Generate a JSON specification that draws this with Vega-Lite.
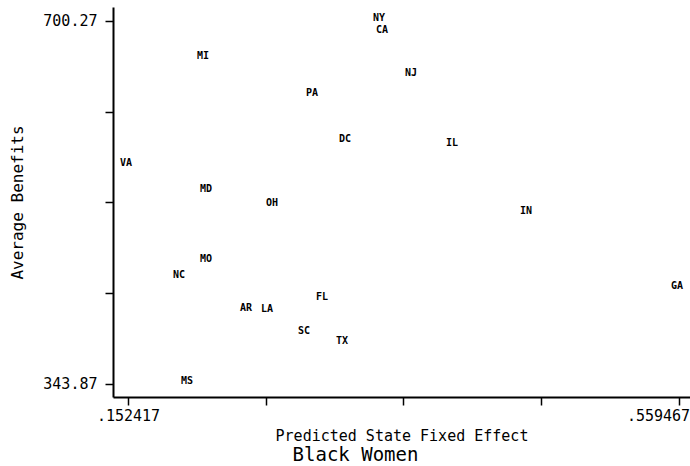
{
  "$schema": "https://vega.github.io/schema/vega-lite/v6.json",
  "width": 577,
  "height": 390,
  "autosize": {"type": "none"},
  "padding": {"left": 113, "top": 7, "right": 0, "bottom": 69},
  "background": "white",
  "config": {"view": {"stroke": null}},
  "title": {
    "text": "Black Women",
    "orient": "bottom",
    "anchor": "middle",
    "frame": "group",
    "dx": -46,
    "offset": 3,
    "font": "DejaVu Sans Mono",
    "fontSize": 19,
    "fontWeight": "normal",
    "color": "black"
  },
  "data": {
    "values": [
      {"state": "NY", "fe": 0.3393, "ben": 700.27},
      {"state": "CA", "fe": 0.3415, "ben": 688.5},
      {"state": "MI", "fe": 0.2093, "ben": 663.0},
      {"state": "NJ", "fe": 0.3630, "ben": 646.3},
      {"state": "PA", "fe": 0.2898, "ben": 626.6},
      {"state": "DC", "fe": 0.3142, "ben": 581.5},
      {"state": "IL", "fe": 0.3933, "ben": 577.6},
      {"state": "VA", "fe": 0.152417, "ben": 557.9},
      {"state": "MD", "fe": 0.2115, "ben": 532.4},
      {"state": "OH", "fe": 0.2603, "ben": 518.6},
      {"state": "IN", "fe": 0.4479, "ben": 510.8},
      {"state": "MO", "fe": 0.2115, "ben": 463.7},
      {"state": "NC", "fe": 0.1916, "ben": 447.9},
      {"state": "GA", "fe": 0.559467, "ben": 437.2},
      {"state": "FL", "fe": 0.2972, "ben": 426.3},
      {"state": "AR", "fe": 0.2411, "ben": 415.5},
      {"state": "LA", "fe": 0.2566, "ben": 414.6},
      {"state": "SC", "fe": 0.2839, "ben": 392.9},
      {"state": "TX", "fe": 0.3120, "ben": 383.1},
      {"state": "MS", "fe": 0.1975, "ben": 343.87}
    ]
  },
  "mark": {
    "type": "text",
    "font": "DejaVu Sans Mono",
    "fontSize": 10,
    "fontWeight": "bold",
    "baseline": "alphabetic",
    "align": "center",
    "dx": -2,
    "color": "black"
  },
  "encoding": {
    "text": {"field": "state", "type": "nominal"},
    "x": {
      "field": "fe",
      "type": "quantitative",
      "scale": {"domain": [0.14134, 0.56759], "nice": false, "zero": false},
      "axis": {
        "title": "Predicted State Fixed Effect",
        "values": [0.152417, 0.25418, 0.355942, 0.457705, 0.559467],
        "labelExpr": "datum.value < 0.16 || datum.value > 0.55 ? substring(format(datum.value, '.6f'), 1) : ''",
        "labelOffset": {"condition": {"test": "datum.value > 0.55", "value": -21}, "value": 0},
        "grid": false,
        "domainColor": "black",
        "domainWidth": 2,
        "tickColor": "black",
        "tickWidth": 1.5,
        "tickSize": 8,
        "labelFont": "DejaVu Sans Mono",
        "labelFontSize": 15,
        "labelColor": "black",
        "labelPadding": 3,
        "labelFlush": false,
        "labelOverlap": false,
        "titleFont": "DejaVu Sans Mono",
        "titleFontSize": 15,
        "titleFontWeight": "normal",
        "titleColor": "black",
        "titlePadding": 5
      }
    },
    "y": {
      "field": "ben",
      "type": "quantitative",
      "scale": {"domain": [331.1, 714.0], "nice": false, "zero": false},
      "axis": {
        "title": "Average Benefits",
        "values": [343.87, 432.97, 522.07, 611.17, 700.27],
        "labelExpr": "datum.value < 350 || datum.value > 700 ? format(datum.value, '.2f') : ''",
        "grid": false,
        "domainColor": "black",
        "domainWidth": 2,
        "tickColor": "black",
        "tickWidth": 1.5,
        "tickSize": 8,
        "labelFont": "DejaVu Sans Mono",
        "labelFontSize": 15,
        "labelColor": "black",
        "labelPadding": 8,
        "labelFlush": false,
        "labelOverlap": false,
        "titleFont": "DejaVu Sans Mono",
        "titleFontSize": 16,
        "titleFontWeight": "normal",
        "titleColor": "black",
        "titlePadding": 17
      }
    }
  }
}
